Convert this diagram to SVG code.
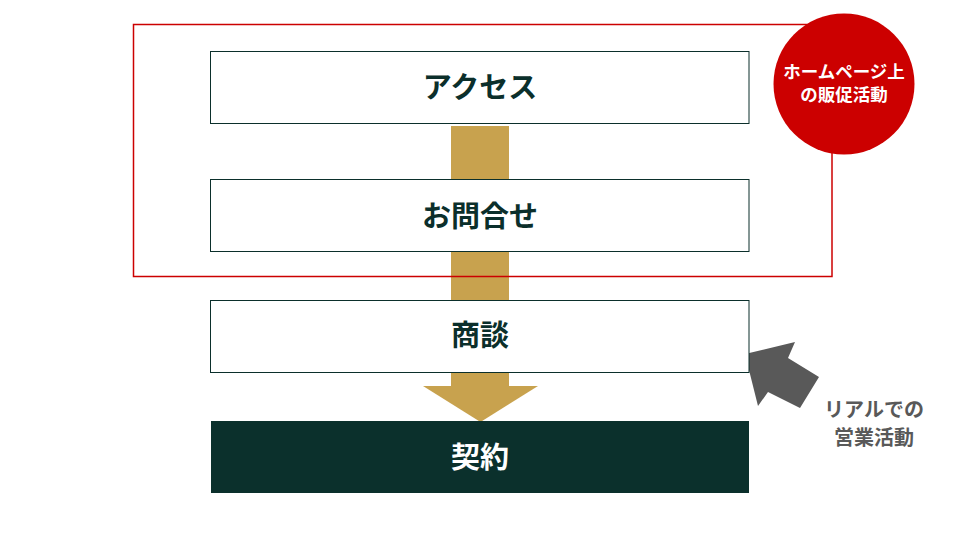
<svg xmlns="http://www.w3.org/2000/svg" width="960" height="540" viewBox="0 0 960 540">
<style>
.box{fill:#ffffff;stroke:#0b2f2b;stroke-width:1}
.lbl{font-family:"Noto Sans CJK JP","Noto Sans",sans-serif;font-weight:bold;font-size:29px;fill:#0b2f2b;text-anchor:middle}
.w{fill:#ffffff}
.sm{font-family:"Noto Sans CJK JP","Noto Sans",sans-serif;font-weight:bold;font-size:17.5px;text-anchor:middle}
.gr{font-family:"Noto Sans CJK JP","Noto Sans",sans-serif;font-weight:bold;font-size:20px;text-anchor:middle;fill:#595959}
</style>
<rect width="960" height="540" fill="#ffffff"/>
<g id="connectors">
<rect x="451" y="126" width="58" height="260" fill="#c8a24e"/>
<polygon points="423,386 538,386 480.5,422" fill="#c8a24e"/>
<polygon points="745,354 795,342 788,358 819,377 800,408 768,392 758,406" fill="#595959"/>
</g>
<g id="web-area">
<rect x="133.5" y="24.5" width="698.5" height="252" fill="none" stroke="#cc0000" stroke-width="1.5"/>
</g>
<g id="node-access">
<rect class="box" x="210.5" y="51.5" width="538.5" height="72"/>
<text class="lbl" x="480" y="98">アクセス</text>
</g>
<g id="node-inquiry">
<rect class="box" x="210.5" y="179.5" width="538.5" height="72"/>
<text class="lbl" x="480" y="227">お問合せ</text>
</g>
<g id="node-meeting">
<rect class="box" x="210.5" y="300.5" width="538.5" height="72"/>
<text class="lbl" x="480" y="346">商談</text>
</g>
<g id="node-contract">
<rect x="211" y="421" width="538" height="72" fill="#0b302c"/>
<text class="lbl w" x="480" y="468">契約</text>
</g>
<g id="badge-web">
<circle cx="844" cy="84" r="70.5" fill="#cc0000"/>
<text class="sm w" x="844" y="77.5">ホームページ上</text>
<text class="sm w" x="844" y="101">の販促活動</text>
</g>
<g id="label-real">
<text class="gr" x="874" y="417">リアルでの</text>
<text class="gr" x="874" y="445">営業活動</text>
</g>
</svg>
